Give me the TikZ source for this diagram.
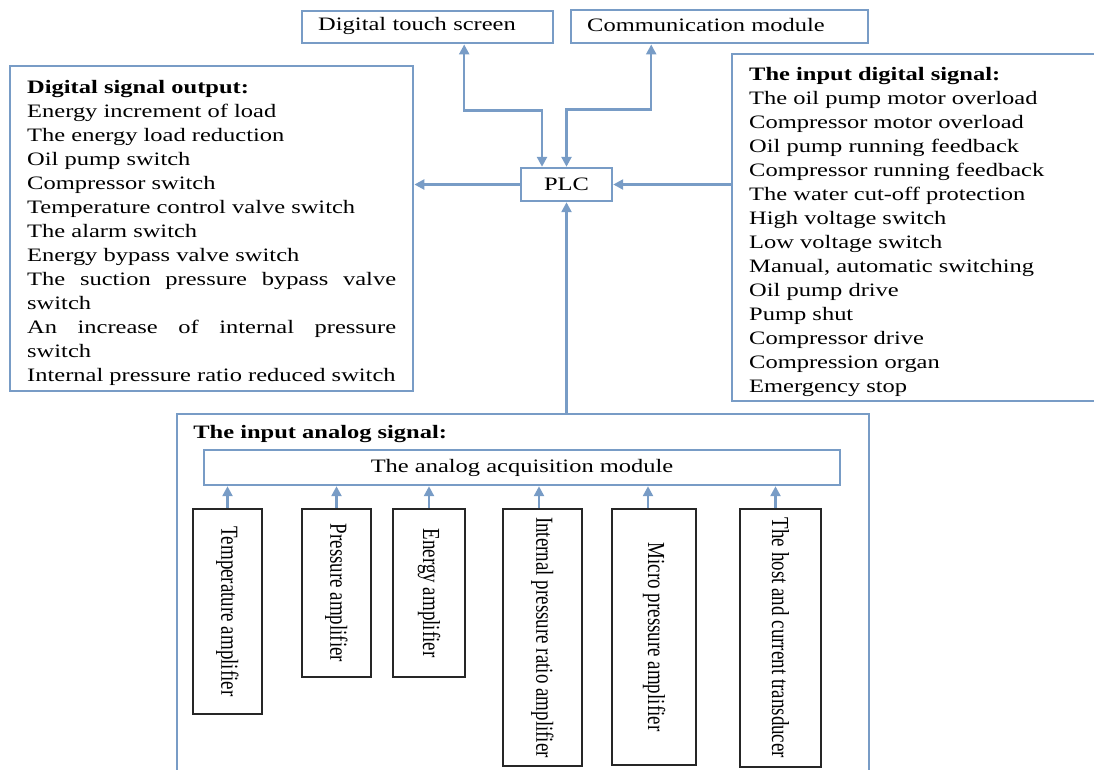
\documentclass[tikz,border=0pt]{standalone}
\usepackage{fontspec}
\setmainfont{Liberation Serif}[FakeStretch=1.29]
\newfontfamily\tallserif{Liberation Serif}
\usepackage{graphicx}
\usetikzlibrary{arrows.meta,positioning,calc}

\definecolor{lineblue}{RGB}{120,156,198}

\tikzset{
  panel/.style={draw=lineblue,line width=1.4pt,inner ysep=0pt},
  ampbox/.style={draw=black!85,line width=0.9pt,inner sep=0pt},
  link/.style={draw=lineblue,line width=1.4pt,->},
}

\newcommand{\ampname}[1]{\rotatebox{-90}{\scalebox{1}[1.29]{\tallserif #1}}}

\begin{document}
\begin{tikzpicture}[x=0.02cm,y=-0.02cm,>={Triangle[length=0.2cm,width=0.2cm]},
    font=\fontsize{10.8pt}{13.66pt}\selectfont]
      \useasboundingbox (0,0) rectangle (1094,769);
      \clip (0,0) rectangle (1094,769);

      \coordinate (d) at (301,10);
      \coordinate (m) at (570,9);
      \coordinate (p) at (566.5,184.5);
      \coordinate (o) at (9,65);
      \coordinate (i) at (731,53);
      \coordinate (a) at (176,413);
      \coordinate (q) at (522,467.5);

      \coordinate (t) at (227.5,611.5);
      \coordinate (r) at (336.5,593);
      \coordinate (e) at (429,593);
      \coordinate (k) at (542.5,637.5);
      \coordinate (u) at (654,637);
      \coordinate (h) at (780.5,638);

      % top row and PLC
      \node[panel,anchor=north west,text width=4.38cm,inner xsep=0.32cm,minimum height=0.64cm] (dn) at (d) {\vspace*{0.05cm}Digital touch screen};
      \node[panel,anchor=north west,text width=5.3cm,inner xsep=0.32cm,minimum height=0.66cm] (mn) at (m) {\vspace*{0.05cm}Communication module};
      \node[panel,minimum width=1.82cm,minimum height=0.66cm] (pn) at (p) {PLC};

      \node[panel,anchor=north west,inner xsep=0.34cm,minimum height=6.5cm] (on) at (o) {\parbox{7.38cm}{\vspace*{0.16cm}\hyphenpenalty=10000
        \textbf{Digital signal output:}\par
        Energy increment of load\par
        The energy load reduction\par
        Oil pump switch\par
        Compressor switch\par
        Temperature control valve switch\par
        The alarm switch\par
        Energy bypass valve switch\par
        The suction pressure bypass valve switch\par
        An increase of internal pressure switch\par
        Internal pressure ratio reduced switch}};

      \node[panel,anchor=north west,inner xsep=0.34cm,minimum height=6.94cm] (in) at (i) {\parbox{7cm}{\vspace*{0.16cm}\raggedright
        \textbf{The input digital signal:}\par
        The oil pump motor overload\par
        Compressor motor overload\par
        Oil pump running feedback\par
        Compressor running feedback\par
        The water cut-off protection\par
        High voltage switch\par
        Low voltage switch\par
        Manual, automatic switching\par
        Oil pump drive\par
        Pump shut\par
        Compressor drive\par
        Compression organ\par
        Emergency stop}};

      % analog part
      \node[panel,anchor=north west,minimum width=13.84cm,minimum height=7.8cm] (an) at (a) {};
      \node[inner sep=0pt,below right=0.24cm and 0.34cm of an.north west] (ah) {\textbf{The input analog signal:}};
      \node[panel,minimum width=12.72cm,minimum height=0.7cm] (qn) at (q) {The analog acquisition module};

      \node[ampbox,minimum width=1.38cm,minimum height=4.1cm] (tn) at (t) {\ampname{Temperature amplifier}};
      \node[ampbox,minimum width=1.38cm,minimum height=3.36cm] (rn) at (r) {\ampname{Pressure amplifier}};
      \node[ampbox,minimum width=1.44cm,minimum height=3.36cm] (en) at (e) {\ampname{Energy amplifier}};
      \node[ampbox,minimum width=1.58cm,minimum height=5.14cm] (kn) at (k) {\ampname{Internal pressure ratio amplifier}};
      \node[ampbox,minimum width=1.68cm,minimum height=5.12cm] (un) at (u) {\ampname{Micro pressure amplifier}};
      \node[ampbox,minimum width=1.62cm,minimum height=5.16cm] (hn) at (h) {\ampname{The host and current transducer}};

      \draw[link] (tn.north) -- (tn.north |- qn.south);
      \draw[link] (rn.north) -- (rn.north |- qn.south);
      \draw[link] (en.north) -- (en.north |- qn.south);
      \draw[link] ([xshift=-0.07cm]kn.north) -- ([xshift=-0.07cm]kn.north |- qn.south);
      \draw[link] ([xshift=-0.12cm]un.north) -- ([xshift=-0.12cm]un.north |- qn.south);
      \draw[link] ([xshift=-0.1cm]hn.north) -- ([xshift=-0.1cm]hn.north |- qn.south);

      % PLC links
      \draw[link,<->] ([xshift=0.73cm]dn.south) -- ++(0,66) -| ([xshift=-0.49cm]pn.north);
      \draw[link,<->] ([xshift=-1.37cm]mn.south) -- ++(0,65) -| (pn.north);
      \draw[link] (pn.west) -- (pn.west -| on.east);
      \draw[link] (in.west |- pn.east) -- (pn.east);
      \draw[link] (an.north -| pn.south) -- (pn.south);
    \end{tikzpicture}
\end{document}
